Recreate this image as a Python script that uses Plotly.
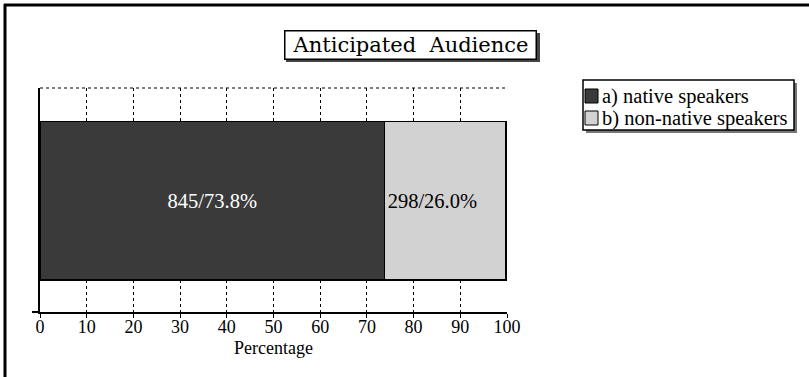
import plotly.graph_objects as go

categories = ["a) native speakers", "b) non-native speakers"]
counts = [845, 298]
percents = [73.8, 26.0]
bar_colors = ["#3a3a3a", "#d2d2d2"]
text_colors = ["white", "black"]
text_anchors = ["middle", "start"]
x_ticks = list(range(0, 101, 10))
title_text = "Anticipated\u00a0\u00a0Audience"
axis_title = "Percentage"

FIG_W, FIG_H = 809, 377
L, R, T, B = 40, 302, 88, 65
PW = FIG_W - L - R
PH = FIG_H - T - B


def px(x):
    return (x - L) / PW


def py(y):
    return (FIG_H - B - y) / PH


fig = go.Figure()
for cat, cnt, pct, col, tcol, anc in zip(categories, counts, percents, bar_colors, text_colors, text_anchors):
    fig.add_trace(go.Bar(
        x=[pct], y=[0], orientation="h", name=cat, width=1,
        marker=dict(color=col, line=dict(color="black", width=1.5)),
        text=[f"{cnt}/{pct:.1f}%"], textposition="inside", insidetextanchor=anc,
        textfont=dict(family="Liberation Serif", size=20.5, color=tcol),
        hoverinfo="skip", showlegend=False,
    ))

fig.update_layout(
    width=FIG_W, height=FIG_H,
    margin=dict(l=L, r=R, t=T, b=B),
    paper_bgcolor="white", plot_bgcolor="white",
    barmode="stack",
    font=dict(family="Liberation Serif", size=18, color="black"),
    xaxis=dict(
        range=[0, 100], tickvals=x_ticks, ticks="outside", ticklen=4, tickcolor="black",
        showgrid=True, gridcolor="black", gridwidth=1, griddash="dot",
        showline=True, linecolor="black", linewidth=2, zeroline=False,
        ticklabelstandoff=-7,
        tickfont=dict(size=18),
    ),
    yaxis=dict(
        range=[-0.70, 0.71], showticklabels=False, ticks="", showgrid=False,
        showline=True, linecolor="black", linewidth=2, zeroline=False,
    ),
    showlegend=False,
)

# axis title placed just beneath the tick labels
fig.add_annotation(x=0.5, y=py(348), xref="paper", yref="paper", showarrow=False,
                   xanchor="center", yanchor="middle", text=axis_title,
                   font=dict(family="Liberation Serif", size=18, color="black"))

shapes = []
# outer frame (top and left)
shapes.append(dict(type="line", xref="paper", yref="paper", x0=px(4), x1=px(809), y0=py(5), y1=py(5),
                   line=dict(color="black", width=3)))
shapes.append(dict(type="line", xref="paper", yref="paper", x0=px(5), x1=px(5), y0=py(4), y1=py(377),
                   line=dict(color="black", width=3)))
# dotted top border of plot area
shapes.append(dict(type="line", xref="paper", yref="paper", x0=0, x1=1, y0=1, y1=1,
                   line=dict(color="black", width=1, dash="dot")))
# axis line extension to the left
shapes.append(dict(type="line", xref="paper", yref="paper", x0=px(32), x1=0, y0=0, y1=0,
                   line=dict(color="black", width=2)))
# title box shadow
shapes.append(dict(type="rect", xref="paper", yref="paper", x0=px(286), x1=px(540), y0=py(33), y1=py(62),
                   line=dict(width=0), fillcolor="#444444"))
# legend shadow + box
LG_X0, LG_X1, LG_Y0, LG_Y1 = 583, 794, 80, 130
shapes.append(dict(type="rect", xref="paper", yref="paper", x0=px(LG_X0 + 3), x1=px(LG_X1 + 3),
                   y0=py(LG_Y0 + 3), y1=py(LG_Y1 + 3), line=dict(width=0), fillcolor="#777777"))
shapes.append(dict(type="rect", xref="paper", yref="paper", x0=px(LG_X0), x1=px(LG_X1),
                   y0=py(LG_Y0), y1=py(LG_Y1), line=dict(color="black", width=1.5), fillcolor="white"))
row_y = [96, 118]
for cat, col, ry in zip(categories, bar_colors, row_y):
    shapes.append(dict(type="rect", xref="paper", yref="paper", x0=px(585), x1=px(598),
                       y0=py(ry - 7), y1=py(ry + 7), line=dict(color="black", width=1), fillcolor=col))
    fig.add_annotation(x=px(600), y=py(ry), xref="paper", yref="paper", showarrow=False,
                       xanchor="left", yanchor="middle", text=cat,
                       font=dict(family="Liberation Serif", size=20.5, color="black"))
fig.update_layout(shapes=shapes)

fig.add_annotation(
    x=px(410), y=py(45), xref="paper", yref="paper", showarrow=False,
    xanchor="center", yanchor="middle",
    text=title_text,
    font=dict(family="DejaVu Serif", size=21, color="black"),
    bordercolor="black", borderwidth=1.5, borderpad=1, bgcolor="white", width=248, height=25,
)

fig.write_html("out.html", config={"displayModeBar": False},
               post_script="document.body.style.margin='0';")
